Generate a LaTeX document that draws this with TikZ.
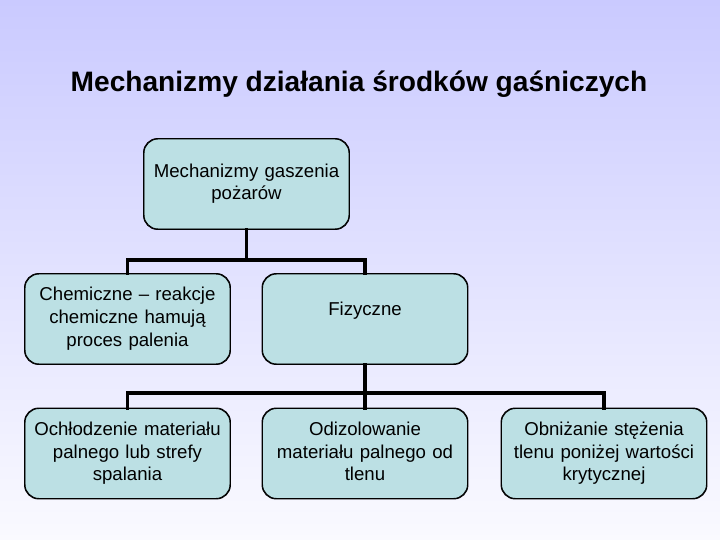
\documentclass[tikz,border=0pt]{standalone}
\usepackage{fontspec}
\setmainfont{Liberation Sans}
\setlength{\lineskiplimit}{-10pt}
\definecolor{tlo}{RGB}{202,202,255}
\definecolor{tlodol}{RGB}{250,250,255}
\definecolor{pole}{RGB}{188,224,228}
\tikzset{
  box/.style={draw=black, line width=0.8pt, fill=pole, rounded corners=12pt,
    minimum width=205*0.03cm, minimum height=90*0.03cm, text width=196*0.03cm,
    align=center, font=\fontsize{15.9}{19.4}\selectfont, inner sep=0pt,
    execute at begin node=\strut, execute at end node=\strut},
  conn/.style={line width=2.6pt, line cap=rect}
}
\begin{document}
\begin{tikzpicture}[x=0.03cm, y=-0.03cm]
        % tlo
        \shade[top color=tlo, bottom color=tlodol] (0,0) rectangle (720,540);
        \useasboundingbox (0,0) rectangle (720,540);

        % tytul
        \node[font=\fontsize{24}{28}\selectfont\bfseries] (tytul) at (359,84)
          {Mechanizmy działania środków gaśniczych};

        % wezly
        \coordinate (j1) at (246.5,260);
        \coordinate (j2) at (365,393);
        \node[box] (mech) at (246.5,184) {Mechanizmy gaszenia\\pożarów};
        \node[box] (chem) at (127.5,319) {Chemiczne -- reakcje\\chemiczne hamują\\proces palenia};
        \node[box] (fiz)  at (365,319)   {Fizyczne\\[-5pt]\mbox{}};
        \node[box] (och)  at (127.5,453.5) {Ochłodzenie materiału\\palnego lub strefy\\spalania};
        \node[box] (odi)  at (365,453.5) {Odizolowanie\\materiału palnego od\\tlenu};
        \node[box] (obn)  at (604,453.5) {Obniżanie stężenia\\tlenu poniżej wartości\\krytycznej};

        % polaczenia
        \draw[conn] (mech.south) -- (j1);
        \draw[conn] (chem.north) |- (j1) -| (fiz.north);
        \draw[conn] (fiz.south) -- (j2);
        \draw[conn] (och.north) |- (j2) -| (obn.north);
        \draw[conn] (j2) -- (odi.north);
        % ramki jeszcze raz nad liniami
        \foreach \n in {mech,chem,fiz,och,odi,obn}
          \draw[line width=0.8pt, rounded corners=12pt] (\n.south west) rectangle (\n.north east);
\end{tikzpicture}
\end{document}
